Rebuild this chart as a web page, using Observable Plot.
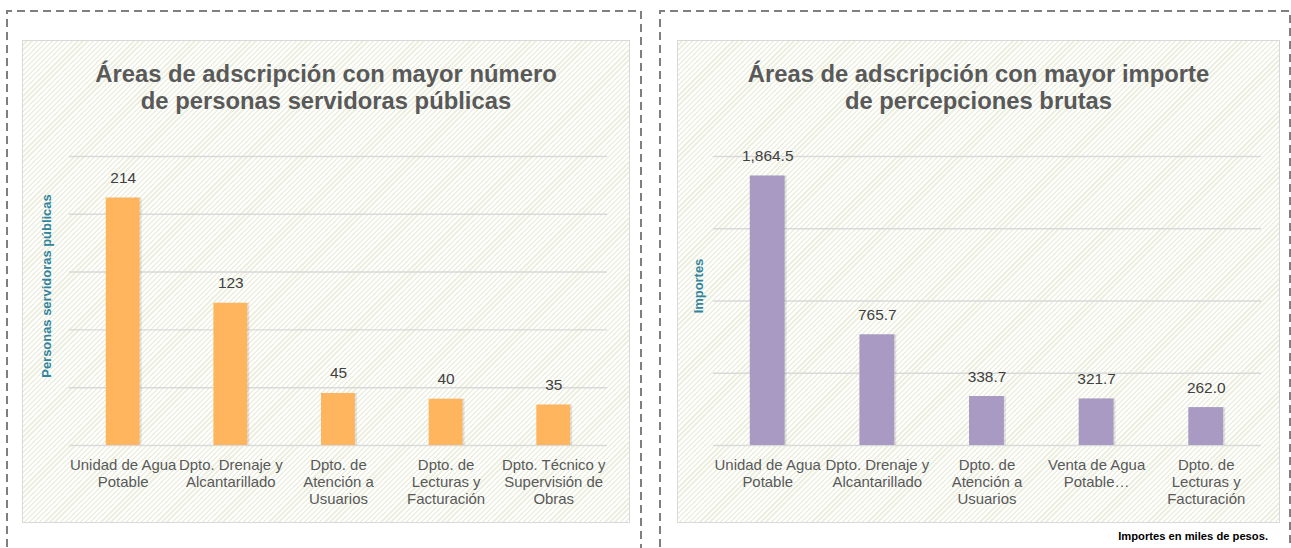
<!DOCTYPE html>
<html>
<head>
<meta charset="utf-8">
<script src="https://cdn.jsdelivr.net/npm/d3@7"></script>
<script src="https://cdn.jsdelivr.net/npm/@observablehq/plot@0.6"></script>
<style>
  html, body { margin: 0; padding: 0; background: #fff; }
  body { width: 1291px; height: 548px; position: relative; overflow: hidden; font-family: "Liberation Sans", Arial, sans-serif; }
  .frame { position: absolute; left: 0; top: 0; }
  .box { position: absolute; top: 40px; height: 483px; box-sizing: border-box; border: 1.5px solid #D9D9D9;
         background: repeating-linear-gradient(135deg, #ffffff 0px, #ffffff 2px, #EDF0E0 2px, #EDF0E0 3.6px); }
  .title { position: absolute; left: 0; right: 0; top: 19px; text-align: center; font-weight: bold; font-size: 23.8px;
           line-height: 27px; color: #595959; }
  .chart { position: absolute; left: 0; top: 100px; }
  .caption { position: absolute; right: 23px; top: 530px; font-size: 11.2px; font-weight: bold; color: #000; }
</style>
</head>
<body>
<svg class="frame" width="1291" height="548">
  <path d="M7,560 V11 H641 V560" fill="none" stroke="#7F7F7F" stroke-width="2" stroke-dasharray="8 5"/>
  <path d="M660,560 V11 H1290 V560" fill="none" stroke="#7F7F7F" stroke-width="2" stroke-dasharray="8 5"/>
</svg>
<div class="box" id="boxL" style="left:22px;width:608px;">
  <div class="title" id="titleL"></div>
  <div class="chart" id="chartL"></div>
</div>
<div class="box" id="boxR" style="left:677px;width:603px;">
  <div class="title" id="titleR"></div>
  <div class="chart" id="chartR"></div>
</div>
<div class="caption" id="caption"></div>
<script>
// ---- Data: left chart ----
const titleLeft = ["Áreas de adscripción con mayor número", "de personas servidoras públicas"];
const yLabelLeft = "Personas servidoras públicas";
const categoriesLeft = ["Unidad de Agua Potable", "Dpto. Drenaje y Alcantarillado", "Dpto. de Atención a Usuarios", "Dpto. de Lecturas y Facturación", "Dpto. Técnico y Supervisión de Obras"];
const tickLabelsLeft = ["Unidad de Agua\nPotable", "Dpto. Drenaje y\nAlcantarillado", "Dpto. de\nAtención a\nUsuarios", "Dpto. de\nLecturas y\nFacturación", "Dpto. Técnico y\nSupervisión de\nObras"];
const valuesLeft = [214, 123, 45, 40, 35];
const yTicksLeft = [0, 50, 100, 150, 200, 250];

// ---- Data: right chart ----
const titleRight = ["Áreas de adscripción con mayor importe", "de percepciones brutas"];
const yLabelRight = "Importes";
const categoriesRight = ["Unidad de Agua Potable", "Dpto. Drenaje y Alcantarillado", "Dpto. de Atención a Usuarios", "Venta de Agua Potable", "Dpto. de Lecturas y Facturación"];
const tickLabelsRight = ["Unidad de Agua\nPotable", "Dpto. Drenaje y\nAlcantarillado", "Dpto. de\nAtención a\nUsuarios", "Venta de Agua\nPotable…", "Dpto. de\nLecturas y\nFacturación"];
const valuesRight = [1864.5, 765.7, 338.7, 321.7, 262.0];
const yTicksRight = [0, 500, 1000, 1500, 2000];

const captionText = "Importes en miles de pesos.";

function drawChart(opts) {
  const data = opts.categories.map((c, i) => ({cat: c, label: opts.tickLabels[i], value: opts.values[i]}));
  return Plot.plot({
    width: opts.width,
    height: 383,
    marginLeft: opts.marginLeft,
    marginRight: opts.marginRight,
    marginTop: 15,
    marginBottom: 78,
    style: {background: "transparent", fontFamily: "Liberation Sans, Arial, sans-serif", overflow: "visible"},
    x: {domain: opts.categories, paddingInner: opts.pad, paddingOuter: opts.pad / 2, axis: null},
    y: {domain: opts.yDomain, axis: null},
    marks: [
      Plot.gridY(opts.yTicks, {stroke: "#D9D9D9", strokeOpacity: 1, strokeWidth: 1.5}),
      Plot.barY(data, {x: "cat", y: "value", fill: "#000", fillOpacity: 0.1, dx: 2}),
      Plot.barY(data, {x: "cat", y: "value", fill: opts.color}),
      Plot.text(data, {x: "cat", y: "value", text: d => opts.fmt(d.value), dy: -20, fontSize: 15.5, fill: "#404040"}),
      Plot.text(data, {x: "cat", text: "label", frameAnchor: "bottom", lineAnchor: "top", dy: 13, lineHeight: 1.133, fontSize: 15, fill: "#595959"}),
      Plot.text([opts.yLabel], {text: d => d, frameAnchor: "left", textAnchor: "middle", rotate: -90, dx: opts.yLabelDx, dy: -15, fontSize: 13, fontWeight: "bold", fill: "#31849B"})
    ]
  });
}

document.getElementById("titleL").innerHTML = titleLeft.join("<br>");
document.getElementById("titleR").innerHTML = titleRight.join("<br>");
document.getElementById("caption").textContent = captionText;

document.getElementById("chartL").appendChild(drawChart({
  width: 608, marginLeft: 46, marginRight: 22, pad: 0.685,
  categories: categoriesLeft, tickLabels: tickLabelsLeft, values: valuesLeft,
  yDomain: [0, 250], yTicks: yTicksLeft, color: "#FFB55E", fmt: d3.format("d"),
  yLabel: yLabelLeft, yLabelDx: -23
}));
document.getElementById("chartR").appendChild(drawChart({
  width: 603, marginLeft: 35, marginRight: 18, pad: 0.68,
  categories: categoriesRight, tickLabels: tickLabelsRight, values: valuesRight,
  yDomain: [0, 2000], yTicks: yTicksRight, color: "#A89AC2", fmt: d3.format(",.1f"),
  yLabel: yLabelRight, yLabelDx: -15
}));
</script>
</body>
</html>
